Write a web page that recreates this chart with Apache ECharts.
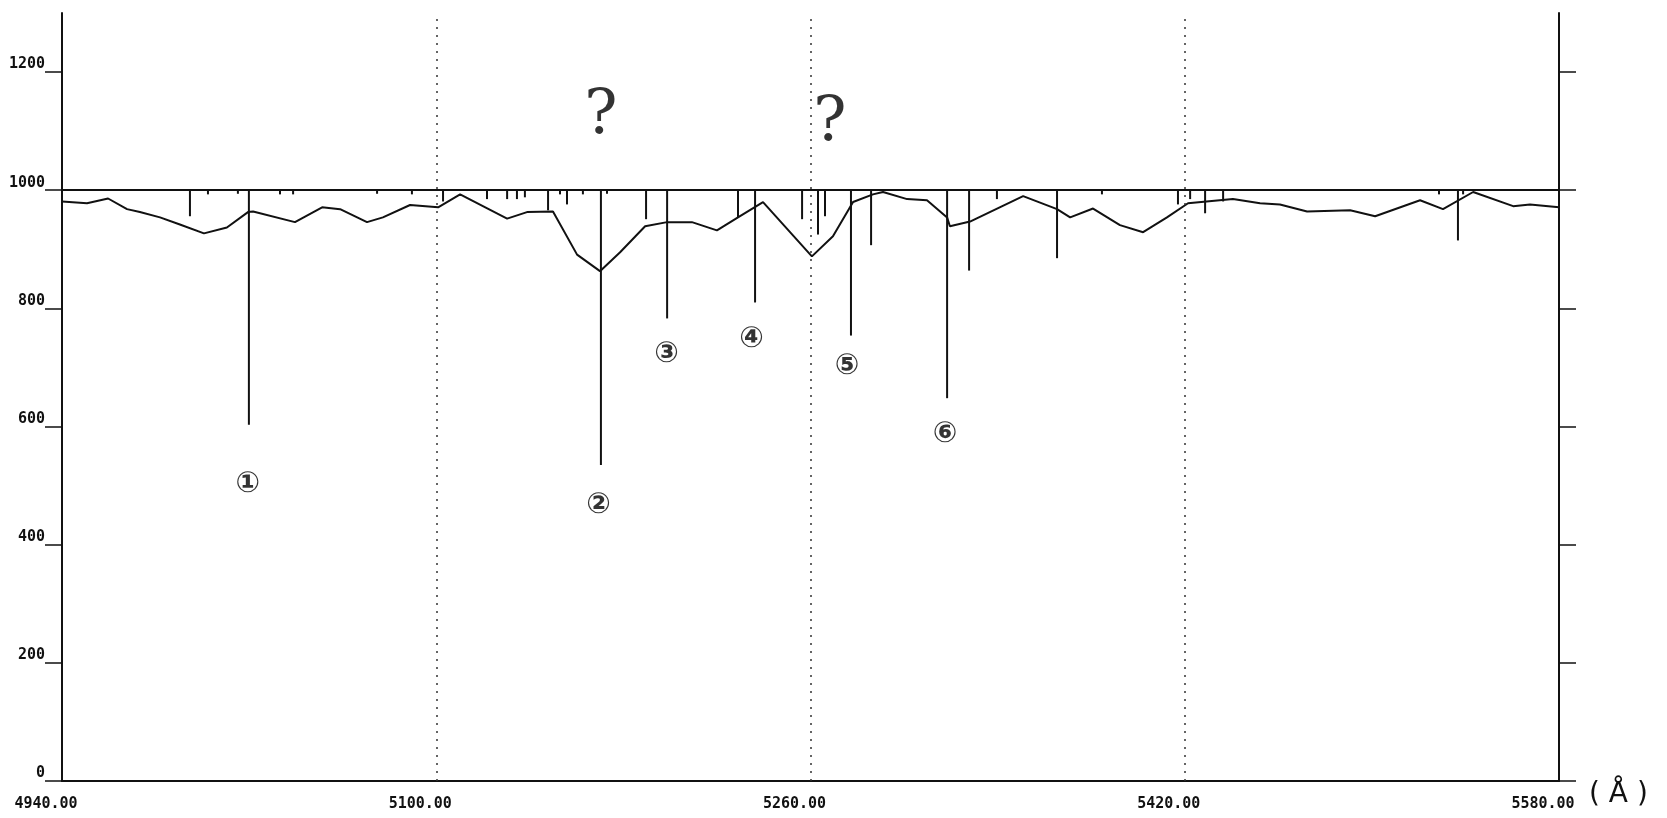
<!DOCTYPE html>
<html>
<head>
<meta charset="utf-8">
<script src="https://cdn.jsdelivr.net/npm/echarts@6/dist/echarts.min.js"></script>
<style>
  html, body { margin: 0; padding: 0; background: #fff; }
  #chart { width: 1667px; height: 818px; }
</style>
</head>
<body>
<div id="chart"></div>
<script>
// axis ticks
const xTicks = [4940, 5100, 5260, 5420, 5580];
const yTicks = [0, 200, 400, 600, 800, 1000, 1200];
const gridWaves = [5100, 5260, 5420];
const continuumLevel = 1000;

// continuum curve (wavelength, counts)
const contWave = [4940, 4950.7, 4959.7, 4967.8, 4973.3, 4981.9, 4990.4, 5000.7, 5010.5, 5019.5,
  5021.7, 5039.6, 5051.2, 5058.9, 5070.4, 5077.2, 5088.8, 5100.8, 5110.2, 5130.3,
  5138.8, 5149.9, 5160.2, 5170, 5178.6, 5189.3, 5198.7, 5209.3, 5220, 5229,
  5239.7, 5260.6, 5269.6, 5278.2, 5286.7, 5291, 5301.3, 5309.8, 5318.4, 5319.6,
  5328.2, 5350.9, 5365.4, 5371, 5380.8, 5392.3, 5402.2, 5412.4, 5421.4, 5440.6,
  5452.2, 5460.7, 5472.3, 5490.7, 5501.4, 5520.6, 5530.4, 5543.3, 5560.4, 5567.6, 5580];
const contFlux = [981, 978, 986, 968, 963, 954, 942, 927, 937, 963,
  964, 946, 971, 968, 946, 954, 975, 971, 993, 952,
  963, 964, 891, 863, 895, 939, 946, 946, 932, 954,
  980, 888, 922, 980, 993, 997, 985, 983, 954, 939,
  947, 990, 968, 954, 969, 941, 929, 954, 978, 985,
  978, 976, 964, 966, 956, 983, 968, 997, 973, 976, 971];

// absorption lines: wavelength and depth reached from the 1000 level
const lineWave = [4994.7, 5002.4, 5015.2, 5019.9, 5033.2, 5038.8, 5074.7, 5089.6, 5102.9, 5121.7,
  5130.3, 5134.5, 5137.9, 5147.8, 5152.9, 5155.9, 5162.7, 5170.4, 5173, 5189.7,
  5198.7, 5229, 5236.3, 5256.4, 5263.2, 5266.2, 5277.3, 5285.9, 5318.4, 5327.8,
  5339.7, 5365.4, 5384.6, 5417.1, 5422.3, 5428.7, 5436.4, 5528.7, 5536.8, 5539];
const lineDepth = [956, 993, 994, 603, 993, 993, 994, 993, 981, 985,
  985, 985, 988, 966, 993, 976, 993, 535, 994, 951,
  783, 954, 810, 951, 925, 956, 754, 907, 648, 864,
  985, 885, 993, 976, 985, 961, 981, 993, 915, 993];

// hand-written notes
const noteWave = [5019.4, 5169.4, 5198.4, 5234.8, 5275.6, 5317.5];
const noteFlux = [502, 466, 722, 747, 702, 587];
const noteText = ['①', '②', '③', '④', '⑤', '⑥'];
const queryWave = [5170.4, 5268.3];
const queryFlux = [1124, 1112];
const queryText = ['?', '?'];

const chart = echarts.init(document.getElementById('chart'));

const labelFont = {
  fontFamily: 'DejaVu Sans Mono',
  fontWeight: 'bold',
  fontSize: 15,
  color: '#111'
};

chart.setOption({
  backgroundColor: '#fff',
  animation: false,
  grid: { left: 62, right: 108, top: 13, bottom: 37 },
  xAxis: {
    type: 'value',
    min: 4940,
    max: 5580,
    name: '( Å )',
    nameLocation: 'end',
    nameGap: 30,
    nameTextStyle: {
      fontFamily: 'DejaVu Sans',
      fontSize: 28,
      color: '#111',
      verticalAlign: 'top'
    },
    axisLine: { lineStyle: { color: '#111', width: 2 } },
    axisTick: { show: false },
    splitLine: { show: false },
    axisLabel: Object.assign({}, labelFont, {
      customValues: xTicks,
      margin: 16,
      padding: [0, 32, 0, 0],
      formatter: v => v.toFixed(2)
    })
  },
  yAxis: [{
    type: 'value',
    min: 0,
    max: 1300,
    axisLine: { show: true, lineStyle: { color: '#111', width: 2 } },
    axisTick: { show: true, customValues: yTicks, length: 17, lineStyle: { color: '#111', width: 1.5 } },
    splitLine: { show: false },
    axisLabel: Object.assign({}, labelFont, {
      customValues: yTicks,
      margin: 17,
      verticalAlign: 'bottom',
      formatter: v => String(v)
    })
  }, {
    type: 'value',
    position: 'right',
    min: 0,
    max: 1300,
    axisLine: { show: true, lineStyle: { color: '#111', width: 2 } },
    axisTick: { show: true, customValues: yTicks, length: 17, lineStyle: { color: '#111', width: 1.5 } },
    splitLine: { show: false },
    axisLabel: { show: false }
  }],
  series: [{
    type: 'line',
    name: 'continuum',
    silent: true,
    symbol: 'none',
    data: contWave.map((w, i) => [w, contFlux[i]]),
    lineStyle: { color: '#111', width: 2 },
    markLine: {
      silent: true,
      symbol: 'none',
      label: { show: false },
      data: [{ yAxis: continuumLevel, lineStyle: { color: '#111', width: 2, type: 'solid' } }]
        .concat(gridWaves.map(w => ({
          xAxis: w,
          lineStyle: { color: '#333', width: 1.5, type: [2, 6] }
        })))
    }
  }, {
    type: 'custom',
    name: 'lines',
    silent: true,
    data: lineWave.map((w, i) => [w, lineDepth[i]]),
    renderItem: (params, api) => {
      const top = api.coord([api.value(0), continuumLevel]);
      const bottom = api.coord([api.value(0), api.value(1)]);
      return {
        type: 'line',
        shape: { x1: top[0], y1: top[1], x2: bottom[0], y2: bottom[1] },
        style: { stroke: '#111', lineWidth: 2 }
      };
    }
  }, {
    type: 'scatter',
    name: 'notes',
    silent: true,
    symbolSize: 1,
    itemStyle: { color: 'rgba(0,0,0,0)' },
    data: noteWave.map((w, i) => ({ value: [w, noteFlux[i]], name: noteText[i] })),
    label: {
      show: true,
      position: 'inside',
      formatter: p => p.name,
      fontFamily: 'DejaVu Sans',
      fontWeight: 'bold',
      fontSize: 29,
      color: '#000'
    }
  }, {
    type: 'scatter',
    name: 'queries',
    silent: true,
    symbolSize: 1,
    itemStyle: { color: 'rgba(0,0,0,0)' },
    data: queryWave.map((w, i) => ({ value: [w, queryFlux[i]], name: queryText[i] })),
    label: {
      show: true,
      position: 'inside',
      formatter: p => p.name,
      fontFamily: 'DejaVu Serif',
      fontSize: 62,
      color: '#000'
    }
  }]
});
</script>
</body>
</html>
